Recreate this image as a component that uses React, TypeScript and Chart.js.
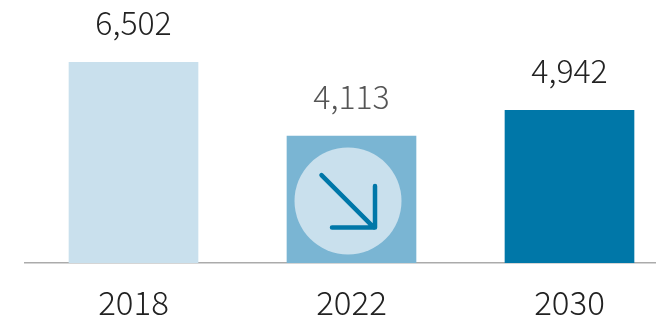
import React, { useEffect, useRef } from "react";
import { Chart, registerables } from "chart.js";

Chart.register(...registerables);

const years = ["2018", "2022", "2030"];
const values = [6502, 4113, 4942];
const barColors = ["#C9E0ED", "#7AB5D3", "#0077A8"];
const labelColors = ["#222222", "#555555", "#222222"];
const FONT = '"Noto Sans CJK JP"';

const valueLabels = {
  id: "valueLabels",
  afterDatasetsDraw(chart: any) {
    const { ctx } = chart;
    const bars = chart.getDatasetMeta(0).data;
    ctx.save();
    ctx.font = `300 32px ${FONT}`;
    ctx.textAlign = "center";
    ctx.textBaseline = "alphabetic";
    bars.forEach((bar: any, i: number) => {
      ctx.fillStyle = labelColors[i];
      ctx.fillText(values[i].toLocaleString("en-US"), bar.x, bar.y - 27.5);
    });
    // arrow badge on the middle bar
    const b = bars[1];
    const cx = b.x - 3.5;
    const cy = b.y + 65;
    ctx.fillStyle = barColors[0];
    ctx.beginPath();
    ctx.arc(cx, cy, 53.5, 0, Math.PI * 2);
    ctx.fill();
    ctx.strokeStyle = barColors[2];
    ctx.lineWidth = 4.5;
    ctx.lineCap = "round";
    ctx.lineJoin = "round";
    ctx.beginPath();
    ctx.moveTo(cx - 26.5, cy - 26);
    ctx.lineTo(cx + 26, cy + 26.5);
    ctx.moveTo(cx - 16, cy + 26.5);
    ctx.lineTo(cx + 27, cy + 26.5);
    ctx.lineTo(cx + 27, cy - 15);
    ctx.stroke();
    ctx.restore();
  },
};

export default function App() {
  const ref = useRef<HTMLCanvasElement>(null);
  useEffect(() => {
    document.body.style.margin = "0";
    const chart = new Chart(ref.current!, {
      type: "bar",
      data: {
        labels: years,
        datasets: [{ data: values, backgroundColor: barColors, barThickness: 129 }],
      },
      plugins: [valueLabels],
      options: {
        animation: false,
        responsive: false,
        layout: { padding: { left: 24.5, right: 1.5, top: 0, bottom: 0 } },
        plugins: { legend: { display: false }, tooltip: { enabled: false } },
        scales: {
          x: {
            grid: { display: false, drawTicks: false },
            border: { color: "#ABABAB", width: 1.5 },
            ticks: {
              color: "#222222",
              font: { family: FONT, size: 33, weight: 300 as any },
              padding: 20,
              maxRotation: 0,
            },
            afterFit(scale: any) {
              scale.height = 57;
            },
          },
          y: {
            display: false,
            min: 0,
            max: 8520,
          },
        },
      },
    });
    return () => chart.destroy();
  }, []);
  return (
    <div style={{ width: 656, height: 320, overflow: "hidden" }}>
      <canvas ref={ref} width={680} height={320} style={{ display: "block" }} />
    </div>
  );
}
